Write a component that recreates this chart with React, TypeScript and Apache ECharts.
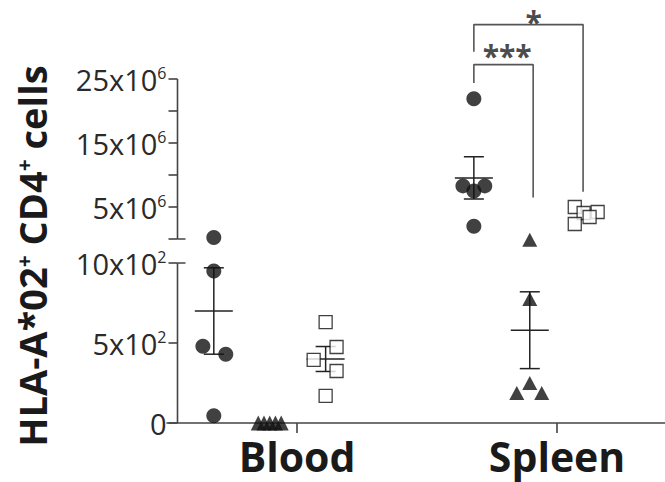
import React, { useEffect, useRef } from "react";
import * as echarts from "echarts";

// ---------- data ----------
const categories = ["Blood", "Spleen"];

// Lower axis segment: cells (0 – 1000); upper segment: millions of cells (0 – 25)
const lowerTickValues = [0, 500, 1000];
const lowerTickText = ["0", "5x10", "10x10"];
const lowerTickExp = ["", "2", "2"];
const upperTickValues = [0, 5, 10, 15, 20, 25];
const upperLabelValues = [5, 15, 25];
const upperTickText = ["5x10", "15x10", "25x10"];
const upperTickExp = ["6", "6", "6"];

// Blood (cells)
const bloodCircles = [1160, 950, 480, 430, 45];
const bloodCirclesJitter = [0, 0, -0.042, 0.046, 0];
const bloodTriangles = [0, 0, 0, 0, 0];
const bloodTrianglesJitter = [-0.044, -0.022, 0, 0.022, 0.044];
const bloodSquares = [630, 475, 395, 325, 170];
const bloodSquaresJitter = [0, 0.042, -0.046, 0.042, 0];

// Spleen (circles & squares in millions, triangles in cells)
const spleenCircles = [21.9, 8.3, 7.5, 8.3, 2.0];
const spleenCirclesJitter = [0, -0.042, 0, 0.042, 0];
const spleenTriangles = [1145, 775, 250, 188, 188];
const spleenTrianglesJitter = [0, 0, 0, -0.05, 0.046];
const spleenSquares = [5.0, 4.06, 4.22, 3.44, 2.34];
const spleenSquaresJitter = [-0.042, -0.008, 0.046, 0.015, -0.042];

// mean ± SEM
const bloodCirclesMean = 700;
const bloodCirclesSem = 270;
const bloodSquaresMean = 400;
const bloodSquaresSem = 78;
const spleenCirclesMean = 9.55;
const spleenCirclesSem = 3.3;
const spleenTrianglesMean = 580;
const spleenTrianglesSem = 240;

// significance
const sigLabels = ["***", "*"];

// ---------- layout helpers ----------
const LOWER_UNITS = 10; // 0..1000 cells -> 0..10
const GAP_UNITS = 1.5;
const UPPER_BASE = LOWER_UNITS + GAP_UNITS; // 11.5
const toLower = (cells: number) => cells / 100;
const toUpper = (millions: number) => UPPER_BASE + millions * 0.4;
const Y_MAX = 26;
const X_MIN = 0.5;
const X_MAX = 2.415;
const PX_PER_X = 260;
const AXIS_INSET_PX = 10.5;
const AXIS_X = X_MIN + AXIS_INSET_PX / PX_PER_X;
const SUB = { circle: -0.32, triangle: -0.105, square: 0.11 };

const FONT = "'Open Sans', 'Noto Sans', 'DejaVu Sans', sans-serif";
const AXIS_COLOR = "#444";

const pts = (cat: number, sub: number, vals: number[], jit: number[], tf: (v: number) => number) =>
  vals.map((v, i) => [cat + sub + jit[i], tf(v)]);

export default function App() {
  const ref = useRef<HTMLDivElement>(null);
  useEffect(() => {
    if (!ref.current) return;
    const chart = echarts.init(ref.current, undefined, { renderer: "svg" });

    const lowerTickV = lowerTickValues.map(toLower);
    const upperTickV = upperTickValues.map(toUpper);
    const upperLabelV = upperLabelValues.map(toUpper);
    const labelFor = (v: number) => {
      for (let i = 0; i < lowerTickV.length; i++)
        if (Math.abs(lowerTickV[i] - v) < 1e-6)
          return lowerTickExp[i] ? `{n|${lowerTickText[i]}}{s|${lowerTickExp[i]}}` : `{n|${lowerTickText[i]}}`;
      for (let i = 0; i < upperLabelV.length; i++)
        if (Math.abs(upperLabelV[i] - v) < 1e-6) return `{n|${upperTickText[i]}}{s|${upperTickExp[i]}}`;
      return "";
    };

    const errData = [
      [1 + SUB.circle, toLower(bloodCirclesMean), toLower(bloodCirclesMean - bloodCirclesSem), toLower(bloodCirclesMean + bloodCirclesSem)],
      [1 + SUB.square, toLower(bloodSquaresMean), toLower(bloodSquaresMean - bloodSquaresSem), toLower(bloodSquaresMean + bloodSquaresSem)],
      [2 + SUB.circle, toUpper(spleenCirclesMean), toUpper(spleenCirclesMean - spleenCirclesSem), toUpper(spleenCirclesMean + spleenCirclesSem)],
      [2 + SUB.triangle, toLower(spleenTrianglesMean), toLower(spleenTrianglesMean - spleenTrianglesSem), toLower(spleenTrianglesMean + spleenTrianglesSem)],
    ];

    const MEAN_HALF = 19;
    const CAP_HALF = 10;

    const brackets = [
      { x1: 2 + SUB.circle, x2: 1.908, top: 22.4, leg1: 21.25, leg2: 14.1 },
      { x1: 2 + SUB.circle, x2: 2.1, top: 24.9, leg1: 23.2, leg2: 14.45 },
    ];
    const sigPos = [
      [1.808, 22.95],
      [1.91, 25.1],
    ];

    const lineStyle = { color: AXIS_COLOR, width: 1.6 };
    const segLine = (name: string, data: number[][], color = AXIS_COLOR) => ({
      type: "line",
      name,
      data,
      symbol: "none",
      silent: true,
      lineStyle: { color, width: 1.6 },
      z: 1,
    });

    const option: any = {
      animation: false,
      grid: { left: 167, right: 0, top: 7, bottom: 59 },
      xAxis: {
        type: "value",
        min: X_MIN,
        max: X_MAX,
        splitLine: { show: false },
        axisLine: { show: true, onZero: false, lineStyle },
        axisTick: { show: true, customValues: [1, 2], length: 10, lineStyle },
        axisLabel: {
          customValues: [1, 2],
          formatter: (v: number) => categories[Math.round(v) - 1] ?? "",
          fontFamily: FONT,
          fontWeight: "bold",
          fontSize: 41,
          color: "#1a1a1a",
          margin: 12,
        },
      },
      yAxis: {
        type: "value",
        min: 0,
        max: Y_MAX,
        offset: -AXIS_INSET_PX,
        splitLine: { show: false },
        axisLine: { show: false },
        axisTick: {
          show: true,
          customValues: [...lowerTickV, ...upperTickV],
          length: 9,
          lineStyle,
        },
        axisLabel: {
          customValues: [...lowerTickV, ...upperLabelV],
          formatter: labelFor,
          margin: 11,
          rich: {
            n: { fontFamily: FONT, fontSize: 29, color: "#2a2a2a" },
            s: { fontFamily: FONT, fontSize: 16, color: "#2a2a2a", verticalAlign: "top" },
          },
        },
      },
      graphic: [
        {
          type: "text",
          x: 32,
          y: 256,
          rotation: Math.PI / 2,
          style: {
            text: "{b|HLA-A*02}{s|+}{b| CD4}{s|+}{b| cells}",
            align: "center",
            verticalAlign: "middle",
            rich: {
              b: { fontFamily: FONT, fontWeight: "bold", fontSize: 38, fill: "#1a1a1a" },
              s: { fontFamily: FONT, fontWeight: "bold", fontSize: 21, fill: "#1a1a1a", verticalAlign: "top" },
            },
          },
        },
      ],
      series: [
        segLine("axis-lower", [[AXIS_X, 0], [AXIS_X, LOWER_UNITS]]),
        segLine("axis-upper", [[AXIS_X, UPPER_BASE], [AXIS_X, toUpper(25)]]),
        segLine("break-1", [[AXIS_X, LOWER_UNITS], [AXIS_X + 8 / PX_PER_X, LOWER_UNITS]]),
        segLine("break-2", [[AXIS_X, UPPER_BASE], [AXIS_X + 8 / PX_PER_X, UPPER_BASE]]),
        ...brackets.map((b, i) =>
          segLine("bracket-" + i, [[b.x1, b.leg1], [b.x1, b.top], [b.x2, b.top], [b.x2, b.leg2]], "#555")
        ),
        {
          type: "scatter",
          name: "sig",
          symbolSize: 0,
          silent: true,
          data: sigPos.map((p, i) => ({ value: p, name: sigLabels[i] })),
          label: {
            show: true,
            position: "inside",
            formatter: (p: any) => p.name,
            fontFamily: FONT,
            fontWeight: "bold",
            fontSize: 30,
            lineHeight: 16,
            color: "#1a1a1a",
          },
        },
        {
          type: "custom",
          name: "mean-sem",
          silent: true,
          data: errData,
          renderItem: (_p: any, api: any) => {
            const x = api.value(0);
            const pm = api.coord([x, api.value(1)]);
            const pl = api.coord([x, api.value(2)]);
            const ph = api.coord([x, api.value(3)]);
            const st = { stroke: "#222", lineWidth: 1.5 };
            return {
              type: "group",
              children: [
                { type: "line", shape: { x1: pm[0] - MEAN_HALF, y1: pm[1], x2: pm[0] + MEAN_HALF, y2: pm[1] }, style: st },
                { type: "line", shape: { x1: pl[0], y1: pl[1], x2: ph[0], y2: ph[1] }, style: st },
                { type: "line", shape: { x1: pl[0] - CAP_HALF, y1: pl[1], x2: pl[0] + CAP_HALF, y2: pl[1] }, style: st },
                { type: "line", shape: { x1: ph[0] - CAP_HALF, y1: ph[1], x2: ph[0] + CAP_HALF, y2: ph[1] }, style: st },
              ],
            };
          },
        },
        {
          type: "scatter",
          name: "Blood circles",
          symbol: "circle",
          symbolSize: 15,
          itemStyle: { color: "#111" },
          data: pts(1, SUB.circle, bloodCircles, bloodCirclesJitter, toLower),
        },
        {
          type: "scatter",
          name: "Blood triangles",
          symbol: "triangle",
          symbolSize: [15, 15],
          itemStyle: { color: "#111" },
          data: pts(1, SUB.triangle, bloodTriangles, bloodTrianglesJitter, toLower),
        },
        {
          type: "scatter",
          name: "Blood squares",
          symbol: "rect",
          symbolSize: 13,
          itemStyle: { color: "#fff", borderColor: "#111", borderWidth: 1.3 },
          data: pts(1, SUB.square, bloodSquares, bloodSquaresJitter, toLower),
        },
        {
          type: "scatter",
          name: "Spleen circles",
          symbol: "circle",
          symbolSize: 15,
          itemStyle: { color: "#111" },
          data: pts(2, SUB.circle, spleenCircles, spleenCirclesJitter, toUpper),
        },
        {
          type: "scatter",
          name: "Spleen triangles",
          symbol: "triangle",
          symbolSize: [15, 14],
          itemStyle: { color: "#111" },
          data: pts(2, SUB.triangle, spleenTriangles, spleenTrianglesJitter, toLower),
        },
        {
          type: "scatter",
          name: "Spleen squares",
          symbol: "rect",
          symbolSize: 13,
          itemStyle: { color: "#fff", borderColor: "#111", borderWidth: 1.3 },
          data: pts(2, SUB.square, spleenSquares, spleenSquaresJitter, toUpper),
        },
      ],
    };

    chart.setOption(option);
    return () => chart.dispose();
  }, []);

  return (
    <div
      ref={ref}
      style={{ position: "fixed", left: 0, top: 0, width: 665, height: 482, background: "#fff" }}
    />
  );
}
